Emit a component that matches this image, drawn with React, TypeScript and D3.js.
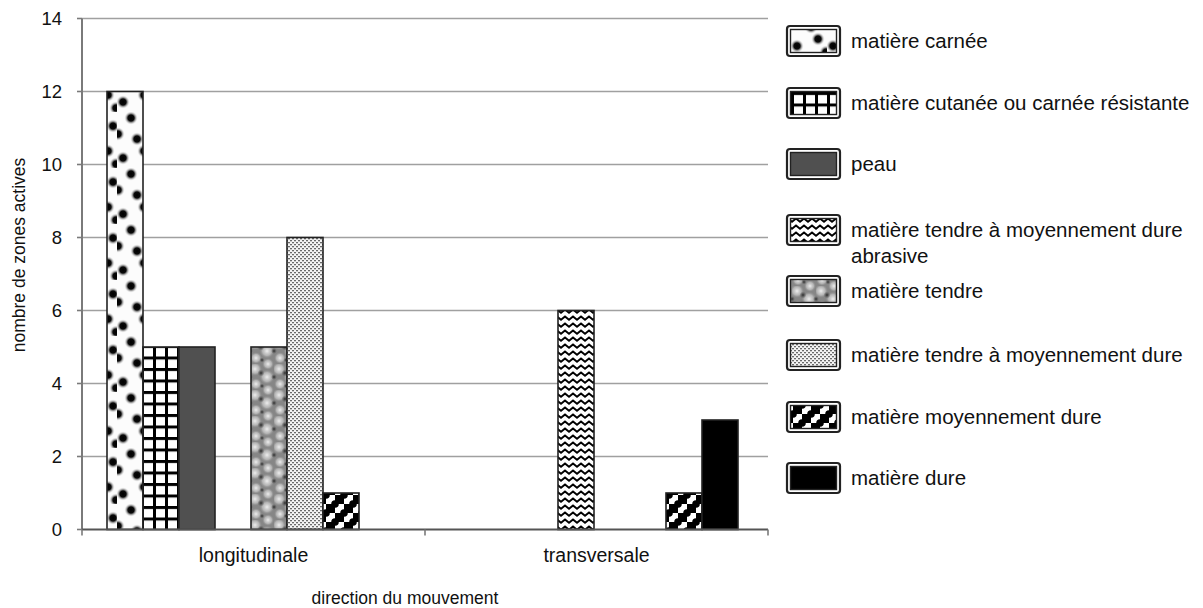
import React from 'react';
import * as d3 from 'd3';

const categories = ['longitudinale', 'transversale'];
const seriesNames = [
  'matière carnée',
  'matière cutanée ou carnée résistante',
  'peau',
  'matière tendre à moyennement dure abrasive',
  'matière tendre',
  'matière tendre à moyennement dure',
  'matière moyennement dure',
  'matière dure',
];
const legendLines = [
  ['matière carnée'],
  ['matière cutanée ou carnée résistante'],
  ['peau'],
  ['matière tendre à moyennement dure', 'abrasive'],
  ['matière tendre'],
  ['matière tendre à moyennement dure'],
  ['matière moyennement dure'],
  ['matière dure'],
];
const longitudinaleValues = [12, 5, 5, 0, 5, 8, 1, 0];
const transversaleValues = [0, 0, 0, 6, 0, 0, 1, 3];
const yTicks = [0, 2, 4, 6, 8, 10, 12, 14];
const yTitle = 'nombre de zones actives';
const xTitle = 'direction du mouvement';

const fills = [
  'url(#pCarnee)',
  'url(#pGrid)',
  '#505050',
  'url(#pZig)',
  'url(#pTendre)',
  'url(#pStipple)',
  'url(#pMoy)',
  '#000000',
];

const FONT = "'Liberation Sans', Arial, sans-serif";

export default function App() {
  const W = 1203;
  const H = 608;
  const left = 82;
  const right = 768;
  const y = d3.scaleLinear().domain([0, 14]).range([529.5, 18.5]);
  const x0 = d3.scaleBand<string>().domain(categories).range([left, right]);
  const x1 = d3.scaleBand<string>().domain(seriesNames).range([25, 313]);
  const values: Record<string, number[]> = {
    longitudinale: longitudinaleValues,
    transversale: transversaleValues,
  };
  const legendY = [41, 103, 164, 230, 291, 355, 417, 478];

  return (
    <svg
      width={W}
      height={H}
      style={{ position: 'absolute', left: 0, top: 0, background: '#fff' }}
      fontFamily={FONT}
    >
      <defs>
        <radialGradient id="gDot">
          <stop offset="0%" stopColor="#000" />
          <stop offset="45%" stopColor="#0a0a0a" />
          <stop offset="100%" stopColor="#fff" stopOpacity="0" />
        </radialGradient>
        <radialGradient id="gLight">
          <stop offset="0%" stopColor="#eeeeee" />
          <stop offset="60%" stopColor="#c0c0c0" stopOpacity="0.8" />
          <stop offset="100%" stopColor="#909090" stopOpacity="0" />
        </radialGradient>
        <radialGradient id="gDark">
          <stop offset="0%" stopColor="#2a2a2a" />
          <stop offset="100%" stopColor="#555" stopOpacity="0" />
        </radialGradient>
        <pattern id="pCarnee" patternUnits="userSpaceOnUse" x={107} y={0} width={36} height={56}>
          <rect width={36} height={56} fill="#fcfcfc" />
          {[
            [14, 6], [32, 14], [20, 27], [27, 39], [6, 46], [1, 22], [35, 52],
          ].map(([cx, cy], i) => (
            <circle key={i} cx={cx} cy={cy} r={7} fill="url(#gDot)" />
          ))}
        </pattern>
        <pattern id="pGrid" patternUnits="userSpaceOnUse" x={143} y={0} width={12} height={11.5}>
          <rect width={12} height={11.5} fill="#fff" />
          <rect x={0} y={0} width={3} height={11.5} fill="#000" />
          <rect x={0} y={0} width={12} height={3} fill="#000" />
        </pattern>
        <pattern id="pZig" patternUnits="userSpaceOnUse" width={8} height={7}>
          <rect width={8} height={7} fill="#fff" />
          <path d="M-1,5.5 L4,1.5 L9,5.5" fill="none" stroke="#000" strokeWidth={2} />
        </pattern>
        <pattern id="pTendre" patternUnits="userSpaceOnUse" width={24} height={26}>
          <rect width={24} height={26} fill="#868686" />
          <circle cx={5} cy={5} r={7} fill="url(#gLight)" />
          <circle cx={17} cy={13} r={7.5} fill="url(#gLight)" />
          <circle cx={6} cy={20} r={6} fill="url(#gLight)" />
          <circle cx={18} cy={0} r={6} fill="url(#gLight)" />
          <circle cx={18} cy={26} r={6} fill="url(#gLight)" />
          <circle cx={11} cy={9} r={3.5} fill="url(#gDark)" />
          <circle cx={0} cy={13} r={3} fill="url(#gDark)" />
          <circle cx={24} cy={13} r={3} fill="url(#gDark)" />
          <circle cx={12} cy={22} r={2.5} fill="url(#gDark)" />
        </pattern>
        <pattern id="pStipple" patternUnits="userSpaceOnUse" width={4} height={4}>
          <rect width={4} height={4} fill="#f4f4f4" />
          <rect x={0} y={0} width={2} height={1.3} fill="#6a6a6a" />
          <rect x={2} y={2} width={2} height={1.3} fill="#6a6a6a" />
        </pattern>
        <pattern id="pMoy" patternUnits="userSpaceOnUse" x={1} y={0} width={18} height={18}>
          <rect width={18} height={18} fill="#fff" />
          <rect x={9} y={0} width={9} height={9} fill="#000" />
          <rect x={0} y={9} width={9} height={9} fill="#000" />
          {[[0, 0], [18, 0], [0, 18], [18, 18], [9, 9]].map(([cx, cy], i) => (
            <circle key={i} cx={cx} cy={cy} r={3.8} fill="#000" />
          ))}
        </pattern>
      </defs>

      {/* gridlines */}
      {yTicks.filter((t) => t > 0).map((t) => (
        <line key={t} x1={left} x2={right} y1={y(t)} y2={y(t)} stroke="#a0a0a0" strokeWidth={1.6} />
      ))}

      {/* y axis */}
      <line x1={left} x2={left} y1={y(14)} y2={y(0)} stroke="#7a7a7a" strokeWidth={2} />
      {yTicks.map((t) => (
        <g key={t}>
          <line x1={left - 5} x2={left} y1={y(t)} y2={y(t)} stroke="#7a7a7a" strokeWidth={1.6} />
          <text x={62} y={y(t) + 6.5} textAnchor="end" fontSize={18.5} fill="#111">
            {t}
          </text>
        </g>
      ))}

      {/* bars */}
      {categories.map((c) => (
        <g key={c} transform={`translate(${x0(c)},0)`}>
          {seriesNames.map((s, i) => {
            const v = values[c][i];
            if (!v) return null;
            return (
              <rect
                key={s}
                x={x1(s)}
                y={y(v)}
                width={x1.bandwidth()}
                height={y(0) - y(v)}
                fill={fills[i]}
                stroke="#222"
                strokeWidth={1.6}
              />
            );
          })}
        </g>
      ))}

      {/* x axis */}
      <line x1={left} x2={right} y1={y(0)} y2={y(0)} stroke="#555" strokeWidth={2} />
      {[left, ...categories.map((c) => (x0(c) as number) + x0.bandwidth())].map((xx, i) => (
        <line key={i} x1={xx} x2={xx} y1={y(0)} y2={y(0) + 6} stroke="#7a7a7a" strokeWidth={1.6} />
      ))}
      {categories.map((c) => (
        <text
          key={c}
          x={(x0(c) as number) + x0.bandwidth() / 2}
          y={562}
          textAnchor="middle"
          fontSize={19.5}
          fill="#111"
        >
          {c}
        </text>
      ))}
      <text x={405} y={604} textAnchor="middle" fontSize={17.5} fill="#111">
        {xTitle}
      </text>
      <text transform="translate(25,255) rotate(-90)" textAnchor="middle" fontSize={17.5} fill="#111">
        {yTitle}
      </text>

      {/* legend */}
      {seriesNames.map((s, i) => {
        const cy = legendY[i];
        return (
          <g key={s}>
            <rect x={787} y={cy - 15} width={53} height={30} rx={3} fill="#fff" stroke="#222" strokeWidth={2.2} />
            <rect x={790.5} y={cy - 11.5} width={46} height={23} fill={fills[i]} stroke="#222" strokeWidth={1.4} />
            {legendLines[i].map((ln, j) => (
              <text key={j} x={851} y={cy + 6.5 + j * 26} fontSize={20.5} fill="#111">
                {ln}
              </text>
            ))}
          </g>
        );
      })}
    </svg>
  );
}
